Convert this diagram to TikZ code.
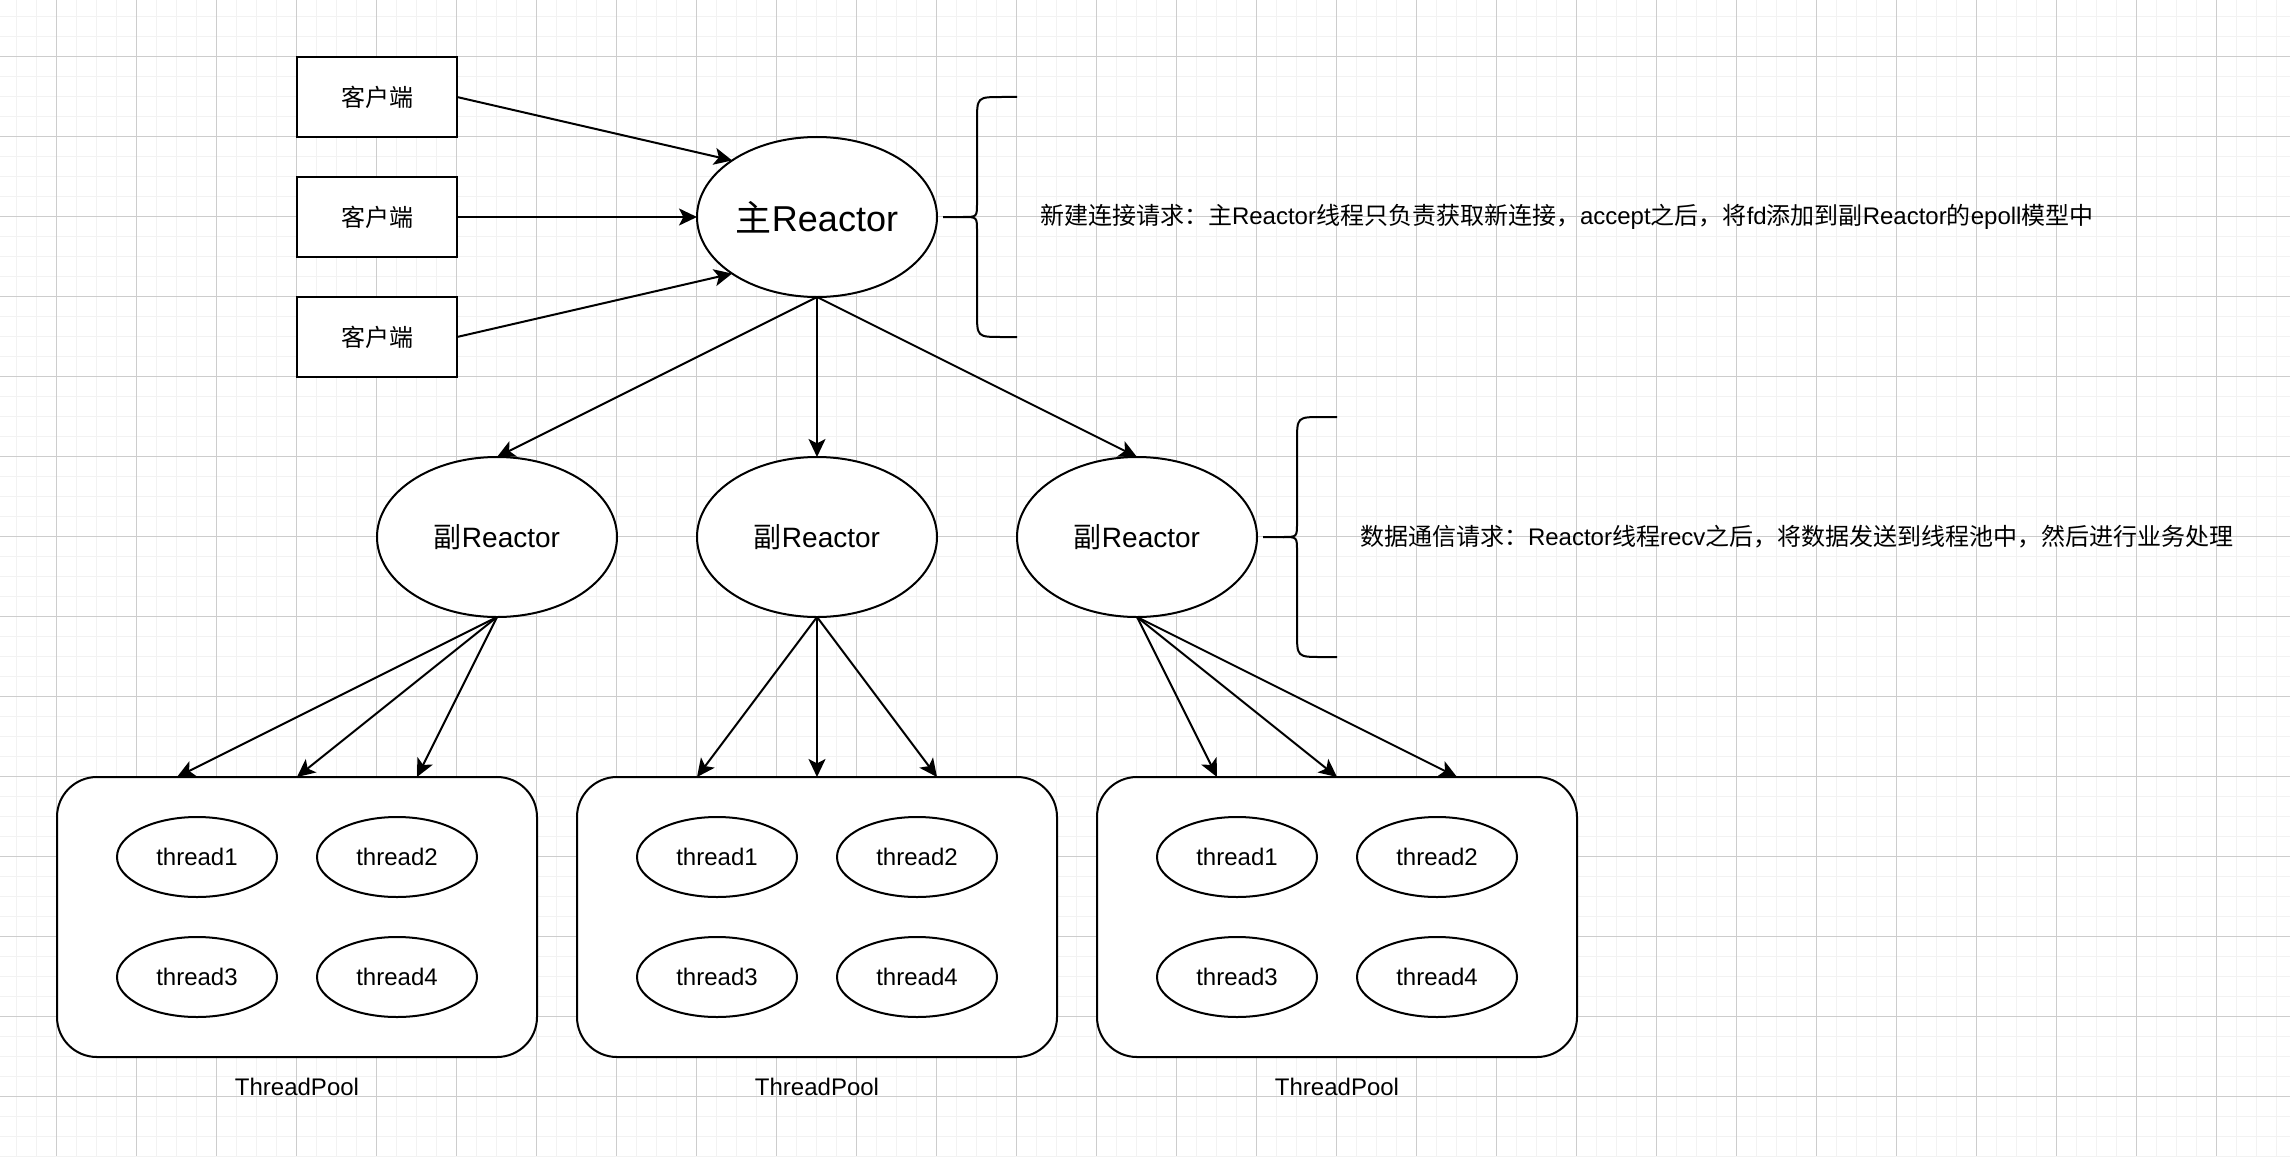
\documentclass[tikz,border=0pt]{standalone}
\usepackage{fontspec}
\setmainfont{Liberation Sans}
\newfontfamily\cjk{Noto Sans CJK SC}
\usetikzlibrary{arrows.meta,shapes.geometric,calc}
\definecolor{minorgrid}{HTML}{F2F2F2}
\definecolor{majorgrid}{HTML}{CDCDCD}
\begin{document}
\begin{tikzpicture}[x=0.5pt,y=-0.5pt,
  every node/.style={inner sep=0pt,outer sep=0pt},
  stroke/.style={line width=1pt,draw=black},
  client/.style={stroke,rectangle,fill=white,minimum width=80pt,minimum height=40pt,font=\fontsize{12pt}{14pt}\selectfont},
  mainreactor/.style={stroke,ellipse,fill=white,minimum width=120pt,minimum height=80pt,font=\fontsize{18pt}{22pt}\selectfont},
  subreactor/.style={stroke,ellipse,fill=white,minimum width=120pt,minimum height=80pt,font=\fontsize{14pt}{17pt}\selectfont},
  pool/.style={stroke,rectangle,rounded corners=20pt,fill=white,minimum width=240pt,minimum height=140pt},
  thread/.style={stroke,ellipse,fill=white,minimum width=80pt,minimum height=40pt,font=\fontsize{12pt}{14pt}\selectfont},
  label/.style={font=\fontsize{12pt}{14pt}\selectfont},
  arr/.style={line width=1pt,-{Stealth[length=9pt,width=8.5pt,inset=2.2pt]}},
  brace/.style={line width=1pt,draw=black}
]
\useasboundingbox (0,0) rectangle (2290,1156);
\fill[white] (0,0) rectangle (2290,1156);
% grid
\foreach \i in {0,...,114} \draw[minorgrid,line width=0.9pt] (16.5+20*\i,0) -- (16.5+20*\i,1156);
\foreach \j in {0,...,57} \draw[minorgrid,line width=0.9pt] (0,16.5+20*\j) -- (2290,16.5+20*\j);
\foreach \i in {0,...,28} \draw[majorgrid,line width=0.5pt] (56.5+80*\i,0) -- (56.5+80*\i,1156);
\foreach \j in {0,...,14} \draw[majorgrid,line width=0.5pt] (0,56.5+80*\j) -- (2290,56.5+80*\j);

% clients
\node[client] (c1) at (377,97) {\cjk 客户端};
\node[client] (c2) at (377,217) {\cjk 客户端};
\node[client] (c3) at (377,337) {\cjk 客户端};

% main reactor
\node[mainreactor] (main) at (817,217) {{\cjk 主}Reactor};

% sub reactors
\node[subreactor] (s1) at (497,537) {{\cjk 副}Reactor};
\node[subreactor] (s2) at (817,537) {{\cjk 副}Reactor};
\node[subreactor] (s3) at (1137,537) {{\cjk 副}Reactor};

% pools
\foreach \p/\cx in {1/297,2/817,3/1337}{
  \node[pool] (p\p) at (\cx,917) {};
  \node[thread] (p\p t1) at (\cx-100,857) {thread1};
  \node[thread] (p\p t2) at (\cx+100,857) {thread2};
  \node[thread] (p\p t3) at (\cx-100,977) {thread3};
  \node[thread] (p\p t4) at (\cx+100,977) {thread4};
  \node[label] (p\p lab) at (\cx,1087) {ThreadPool};
  \coordinate (p\p a) at ($(p\p.north west)!0.25!(p\p.north east)$);
  \coordinate (p\p b) at ($(p\p.north west)!0.5!(p\p.north east)$);
  \coordinate (p\p c) at ($(p\p.north west)!0.75!(p\p.north east)$);
}

% client arrows
\draw[arr] (c1.east) -- (main.north west);
\draw[arr] (c2.east) -- (main.west);
\draw[arr] (c3.east) -- (main.south west);

% main to sub
\draw[arr] (main.south) -- (s1.north);
\draw[arr] (main.south) -- (s2.north);
\draw[arr] (main.south) -- (s3.north);

% sub to pools
\foreach \p in {1,2,3}{
  \draw[arr] (s\p.south) -- (p\p a);
  \draw[arr] (s\p.south) -- (p\p b);
  \draw[arr] (s\p.south) -- (p\p c);
}

% braces
\draw[brace] (1017,97) -- (1002,97) .. controls (977,97) .. (977,122) -- (977,203) .. controls (977,217) .. (963,217) -- (943,217);
\draw[brace] (1017,337) -- (1002,337) .. controls (977,337) .. (977,312) -- (977,231) .. controls (977,217) .. (963,217);
\draw[brace] (1337,417) -- (1322,417) .. controls (1297,417) .. (1297,442) -- (1297,523) .. controls (1297,537) .. (1283,537) -- (1263,537);
\draw[brace] (1337,657) -- (1322,657) .. controls (1297,657) .. (1297,632) -- (1297,551) .. controls (1297,537) .. (1283,537);

% annotations
\node[label,anchor=west] (note1) at (1040,217) {{\cjk 新建连接请求：主}Reactor{\cjk 线程只负责获取新连接，}accept{\cjk 之后，将}fd{\cjk 添加到副}Reactor{\cjk 的}epoll{\cjk 模型中}};
\node[label,anchor=west] (note2) at (1360,537) {{\cjk 数据通信请求：}Reactor{\cjk 线程}recv{\cjk 之后，将数据发送到线程池中，然后进行业务处理}};
\end{tikzpicture}
\end{document}
